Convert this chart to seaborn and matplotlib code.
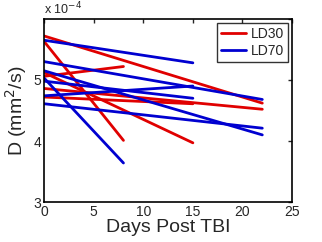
import numpy as np
import pandas as pd
import matplotlib
matplotlib.use("Agg")
import matplotlib.pyplot as plt
import seaborn as sns

# diffusivity per animal, in units of 1e-4 mm^2/s
ld30_days = [[0, 22], [0, 8], [0, 8], [0, 15], [0, 22], [0, 15]]
ld30_vals = [[5.72, 4.62], [5.63, 4.01], [5.06, 5.22], [5.12, 3.97], [4.86, 4.52], [4.72, 4.61]]
ld70_days = [[0, 15], [0, 22], [0, 22], [0, 8], [0, 15], [0, 15], [0, 22]]
ld70_vals = [[5.65, 5.28], [5.30, 4.68], [5.15, 4.10], [5.03, 3.64], [4.98, 4.70], [4.74, 4.90], [4.61, 4.21]]

rows = []
for grp, days, vals in [("LD30", ld30_days, ld30_vals), ("LD70", ld70_days, ld70_vals)]:
    for i, (d, v) in enumerate(zip(days, vals)):
        for dd, vv in zip(d, v):
            rows.append({"day": dd, "D": vv, "group": grp, "animal": f"{grp}_{i}"})
df = pd.DataFrame(rows)

sns.set_style("white")
plt.rcParams["font.family"] = ["Liberation Sans", "DejaVu Sans"]

fig = plt.figure(figsize=(3.22, 2.42), dpi=100)
ax = fig.add_axes([0.137, 0.165, 0.770, 0.757])
sns.lineplot(data=df, x="day", y="D", hue="group", units="animal", estimator=None,
             palette={"LD30": "#e00000", "LD70": "#0000d0"}, lw=2, ax=ax)

ax.set_xlim(0, 25)
ax.set_ylim(3, 6)
ax.set_xticks([0, 5, 10, 15, 20, 25])
ax.set_yticks([3, 4, 5, 6])
ax.set_yticklabels(["3", "4", "5", ""])
ax.tick_params(direction="in", top=True, right=True, length=3, width=1, labelsize=10, pad=2)
for s in ax.spines.values():
    s.set_color("black")
    s.set_linewidth(1.2)
ax.set_xlabel("Days Post TBI", fontsize=14, labelpad=0)
ax.set_ylabel("D (mm$^2$/s)", fontsize=14, labelpad=3)
ax.text(0.0, 1.01, "x 10$^{-4}$", transform=ax.transAxes, fontsize=9, va="bottom", ha="left")

leg = ax.legend(loc="upper right", fontsize=10, frameon=True, fancybox=False,
                handlelength=1.8, borderpad=0.3, labelspacing=0.2, handletextpad=0.3,
                borderaxespad=0.3)
leg.get_frame().set_edgecolor("black")
leg.get_frame().set_linewidth(1)
leg.set_title(None)

fig.savefig("out.png", dpi=100, facecolor="white")
